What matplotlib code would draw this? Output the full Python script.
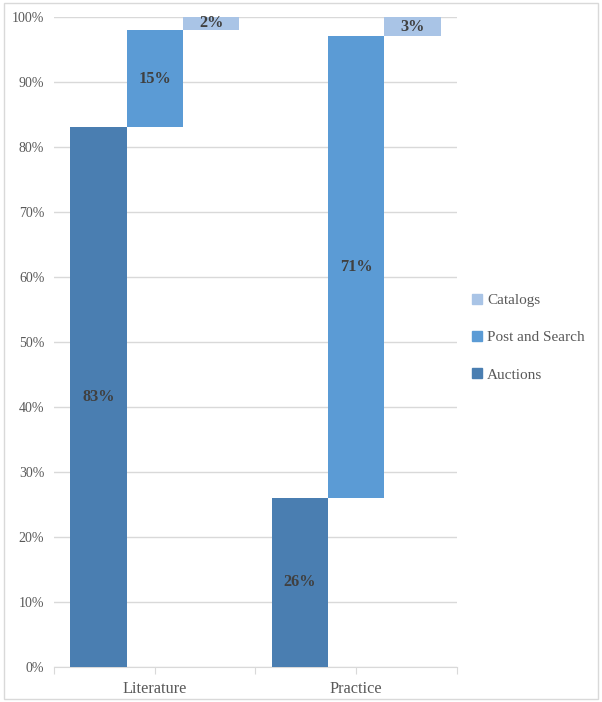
import numpy as np
import matplotlib
matplotlib.use("Agg")
import matplotlib.pyplot as plt
from matplotlib.patches import Rectangle, Patch

categories = ["Literature", "Practice"]
series = ["Auctions", "Post and Search", "Catalogs"]
auctions = [83, 26]
post_search = [15, 71]
catalogs = [2, 3]
colors = ["#4A7EB1", "#5B9BD5", "#A9C4E6"]

plt.rcParams["font.family"] = ["Liberation Serif", "DejaVu Serif"]

fig = plt.figure(figsize=(6.02, 7.02), dpi=100)
ax = fig.add_axes([0.0897, 0.0499, 0.6694, 0.9259])

width = 0.28
offsets = [-width, 0.0, width]
vals = np.array([auctions, post_search, catalogs])
bottoms = np.vstack([np.zeros(2), np.cumsum(vals, axis=0)[:-1]])
x = np.arange(len(categories)) + 0.5

for i, name in enumerate(series):
    ax.bar(x + offsets[i], vals[i], width, bottom=bottoms[i],
           color=colors[i], label=name, zorder=3)
    for j in range(len(categories)):
        ax.text(x[j] + offsets[i], bottoms[i][j] + vals[i][j] / 2,
                "%d%%" % vals[i][j], ha="center", va="center",
                fontsize=11.8, fontweight="bold", color="#404040", zorder=4)

ax.set_xlim(0, 2)
ax.set_ylim(0, 100)
ax.set_yticks(np.arange(0, 101, 10))
ax.set_yticklabels(["%d%%" % v for v in range(0, 101, 10)])
ax.yaxis.grid(True, color="#D9D9D9", linewidth=1, zorder=0)
ax.set_xticks([0, 0.5, 1, 1.5, 2])
ax.set_xticklabels(["", categories[0], "", categories[1], ""])
ax.tick_params(axis="x", length=5, color="#D9D9D9", labelsize=11.8,
               labelcolor="#595959", pad=5)
ax.tick_params(axis="y", length=0, labelsize=10, labelcolor="#595959", pad=7)
for s in ["top", "right", "left"]:
    ax.spines[s].set_visible(False)
ax.spines["bottom"].set_color("#D9D9D9")

handles = [Patch(color=colors[i], label=series[i]) for i in [2, 1, 0]]
fig.legend(handles=handles, loc="center left", bbox_to_anchor=(0.762, 0.519),
           frameon=False, fontsize=11.0, handlelength=0.65, handleheight=0.65,
           handletextpad=0.3, labelspacing=1.55, labelcolor="#595959")

fig.patches.append(Rectangle((0.006, 0.004), 0.988, 0.992, transform=fig.transFigure,
                             fill=False, edgecolor="#D9D9D9", linewidth=1))

fig.savefig("out.png", dpi=100)
